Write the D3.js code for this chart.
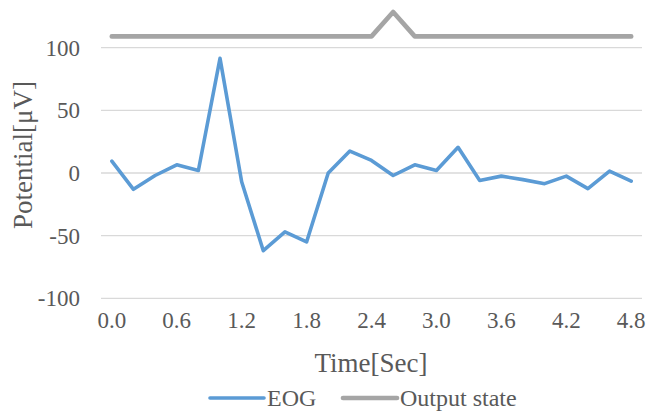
<!DOCTYPE html>
<html><head><meta charset="utf-8">
<script src="https://cdn.jsdelivr.net/npm/d3@7"></script>
<style>body{margin:0;background:#fff}svg{display:block}text{font-family:'Liberation Serif','Times New Roman',serif}</style>
</head><body>
<script>
const categories = ["0.0","0.2","0.4","0.6","0.8","1.0","1.2","1.4","1.6","1.8","2.0","2.2","2.4","2.6","2.8","3.0","3.2","3.4","3.6","3.8","4.0","4.2","4.4","4.6","4.8"];
const eog = [9.5,-13,-2,6.5,2,91.5,-7,-62,-47,-55,0,17.5,10,-2,6.5,2,20.5,-6,-2.5,-5.3,-8.5,-2.5,-12.5,1.5,-6.5];
const outputState = [109,109,109,109,109,109,109,109,109,109,109,109,109,128.5,109,109,109,109,109,109,109,109,109,109,109];
const yTicks = [-100,-50,0,50,100];
const xTickLabels = ["0.0","0.6","1.2","1.8","2.4","3.0","3.6","4.2","4.8"];

const W = 653, H = 416;
const font = "'Liberation Serif','Times New Roman',serif";
const svg = d3.select("body").append("svg").attr("width", W).attr("height", H);

const x = d3.scaleBand().domain(categories).range([101, 642]);
const y = d3.scaleLinear().domain([-100, 100]).range([298.3, 47.7]);
const cx = d => x(d) + x.bandwidth() / 2;

// gridlines
svg.append("g").selectAll("line").data(yTicks).join("line")
  .attr("x1", 101).attr("x2", 642)
  .attr("y1", d => y(d)).attr("y2", d => y(d))
  .attr("stroke", "#d9d9d9").attr("stroke-width", 1.3);

// y axis labels
const yAxis = d3.axisLeft(y).tickValues(yTicks).tickSize(0).tickPadding(0).tickFormat(d => String(d));
const ya = svg.append("g").attr("transform", "translate(80,0)").call(yAxis);
ya.attr("font-family", null);
ya.select(".domain").remove();
ya.selectAll("text").style("font-family", font).style("font-size", "23px").attr("fill", "#595959");

// x axis labels
const xAxis = d3.axisBottom(x).tickValues(xTickLabels).tickSize(0).tickPadding(0);
const xa = svg.append("g").attr("transform", "translate(0,312)").call(xAxis);
xa.attr("font-family", null);
xa.select(".domain").remove();
xa.selectAll("text").style("font-family", font).style("font-size", "23px").attr("fill", "#595959").attr("dy", "0.71em");

// lines
const line = d3.line().x((d, i) => cx(categories[i])).y(d => y(d));
svg.append("path").datum(outputState).attr("d", line)
  .attr("fill", "none").attr("stroke", "#a5a5a5").attr("stroke-width", 4.7)
  .attr("stroke-linecap", "round").attr("stroke-linejoin", "round");
svg.append("path").datum(eog).attr("d", line)
  .attr("fill", "none").attr("stroke", "#5b9bd5").attr("stroke-width", 3.6)
  .attr("stroke-linecap", "round").attr("stroke-linejoin", "round");

// axis titles
svg.append("text").attr("x", 371).attr("y", 372).attr("text-anchor", "middle")
  .style("font-size", "27px").attr("fill", "#595959").text("Time[Sec]");
svg.append("text").attr("transform", "translate(32,155) rotate(-90)").attr("text-anchor", "middle")
  .style("font-size", "27px").attr("fill", "#595959").text("Potential[μV]");

// legend
const legend = [{name: "EOG", color: "#5b9bd5", w: 3.6, x0: 210}, {name: "Output state", color: "#a5a5a5", w: 4.7, x0: 343}];
const lg = svg.append("g").selectAll("g").data(legend).join("g");
lg.append("line").attr("x1", d => d.x0).attr("x2", d => d.x0 + 54).attr("y1", 398).attr("y2", 398)
  .attr("stroke", d => d.color).attr("stroke-width", d => d.w).attr("stroke-linecap", "round");
lg.append("text").attr("x", d => d.x0 + 57).attr("y", 406)
  .style("font-size", "24px").attr("fill", "#595959").text(d => d.name);
</script>
</body></html>
